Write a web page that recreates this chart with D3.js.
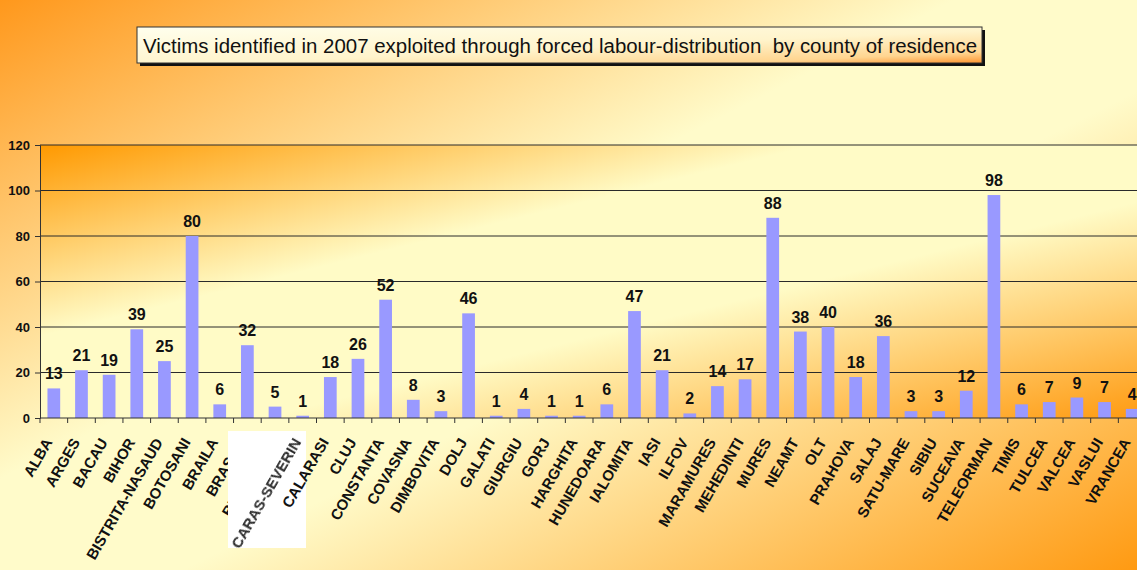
<!DOCTYPE html>
<html>
<head>
<meta charset="utf-8">
<script src="https://cdn.jsdelivr.net/npm/d3@7"></script>
<style>
body { margin: 0; overflow: hidden; }
svg { display: block; font-family: "Liberation Sans", Arial, sans-serif; }
</style>
</head>
<body>
<svg id="chart"></svg>
<script>
const counties = ['ALBA', 'ARGES', 'BACAU', 'BIHOR', 'BISTRITA-NASAUD', 'BOTOSANI', 'BRAILA', 'BRASOV',
	'BUCURESTI', 'CARAS-SEVERIN', 'CALARASI', 'CLUJ', 'CONSTANTA', 'COVASNA', 'DIMBOVITA', 'DOLJ',
	'GALATI', 'GIURGIU', 'GORJ', 'HARGHITA', 'HUNEDOARA', 'IALOMITA', 'IASI', 'ILFOV', 'MARAMURES',
	'MEHEDINTI', 'MURES', 'NEAMT', 'OLT', 'PRAHOVA', 'SALAJ', 'SATU-MARE', 'SIBIU', 'SUCEAVA',
	'TELEORMAN', 'TIMIS', 'TULCEA', 'VALCEA', 'VASLUI', 'VRANCEA']
const victims = [13, 21, 19, 39, 25, 80, 6, 32, 5, 1, 18, 26, 52, 8, 3, 46, 1, 4, 1, 1, 6, 47, 21, 2,
	14, 17, 88, 38, 40, 18, 36, 3, 3, 12, 98, 6, 7, 9, 7, 4]
const yTicks = [0, 20, 40, 60, 80, 100, 120]
const title = 'Victims identified in 2007 exploited through forced labour-distribution  by county of residence'

const width = 1137, height = 570
const plot = {left: 40, right: 1146, top: 145, bottom: 418}

const svg = d3.select('#chart').attr('width', width).attr('height', height)
const defs = svg.append('defs')

function gradient(id, stops) {
	let g = defs.append('linearGradient').attr('id', id)
		.attr('x1', 0).attr('y1', 0).attr('x2', 1).attr('y2', 1)
	stops.forEach(([o, c]) => g.append('stop').attr('offset', o).attr('stop-color', c))
}
gradient('bg', [[0, '#ff981c'], [0.42, '#fffbca'], [0.58, '#fffbca'], [1, '#ff9a12']])
gradient('plotbg', [[0, '#ff9900'], [0.35, '#fffbc6'], [0.6, '#fffbc6'], [1, '#ff9a10']])
gradient('titlebg', [[0, '#ffffee'], [0.55, '#fff4cc'], [0.85, '#ffd590'], [1, '#ff9530']])
defs.append('filter').attr('id', 'soft')
	.append('feGaussianBlur').attr('stdDeviation', 0.6)

svg.append('rect').attr('width', width).attr('height', height).attr('fill', 'url(#bg)')

// title box with shadow
svg.append('rect').attr('x', 140).attr('y', 30).attr('width', 845).attr('height', 36).attr('fill', '#111')
svg.append('rect').attr('x', 137).attr('y', 27).attr('width', 845).attr('height', 36)
	.attr('fill', 'url(#titlebg)').attr('stroke', '#333').attr('stroke-width', 1)
svg.append('text').attr('x', 143).attr('y', 53)
	.attr('textLength', 834).attr('lengthAdjust', 'spacingAndGlyphs')
	.style('white-space', 'pre').style('font-size', '20px').attr('fill', '#111')
	.text(title)

let x = d3.scaleBand().domain(counties).range([plot.left, plot.right]).padding(0)
let y = d3.scaleLinear().domain([0, 120]).range([plot.bottom, plot.top])
let bw = x.bandwidth()
let barW = bw * 0.46

svg.append('rect').attr('x', plot.left).attr('y', plot.top)
	.attr('width', plot.right - plot.left).attr('height', plot.bottom - plot.top)
	.attr('fill', 'url(#plotbg)')

// gridlines
svg.append('g').selectAll('line').data(yTicks.filter(t => t > 0)).join('line')
	.attr('x1', plot.left).attr('x2', plot.right)
	.attr('y1', d => y(d)).attr('y2', d => y(d))
	.attr('stroke', '#2a2a2a').attr('stroke-width', 1)

// y axis
let yAxis = svg.append('g').attr('transform', `translate(${plot.left},0)`)
	.call(d3.axisLeft(y).tickValues(yTicks).tickSize(5).tickPadding(5))
yAxis.select('.domain').attr('stroke', '#333')
yAxis.selectAll('line').attr('stroke', '#333')
yAxis.selectAll('text').style('font-size', '13px').style('font-weight', 'bold')
	.style('font-family', '"Liberation Sans", Arial, sans-serif').attr('fill', '#111')

// bars
svg.append('g').selectAll('rect').data(counties).join('rect')
	.attr('x', (c) => x(c) + (bw - barW) / 2)
	.attr('width', barW)
	.attr('y', (c, i) => y(victims[i]))
	.attr('height', (c, i) => y(0) - y(victims[i]))
	.attr('fill', '#9999ff')

// value labels
svg.append('g').selectAll('text').data(counties).join('text')
	.attr('x', (c) => x(c) + bw / 2)
	.attr('y', (c, i) => y(victims[i]) - 9)
	.attr('text-anchor', 'middle')
	.style('font-size', '16px').style('font-weight', 'bold').attr('fill', '#111')
	.text((c, i) => victims[i])

// x axis line and ticks at category boundaries
svg.append('line').attr('x1', plot.left).attr('x2', plot.right)
	.attr('y1', plot.bottom).attr('y2', plot.bottom).attr('stroke', '#333')
svg.append('g').selectAll('line').data(counties).join('line')
	.attr('x1', c => x(c)).attr('x2', c => x(c))
	.attr('y1', plot.bottom).attr('y2', plot.bottom + 5)
	.attr('stroke', '#333')

// category labels
let labels = svg.append('g')
function catLabel(c) {
	return labels.append('text')
		.attr('transform', `translate(${x(c) + bw / 2 - 1},442) rotate(-60)`)
		.attr('text-anchor', 'end')
		.style('font-size', '15px').style('font-weight', 'bold').attr('fill', '#111')
		.text(c)
}
let cut = counties.indexOf('CARAS-SEVERIN')
counties.slice(0, cut).forEach(catLabel)

// pasted white patch over some labels, with its own label
labels.append('rect').attr('x', 228).attr('y', 431).attr('width', 78).attr('height', 117).attr('fill', '#fff')
catLabel('CARAS-SEVERIN').attr('fill', '#2a2a2a').attr('filter', 'url(#soft)')
counties.slice(cut + 1).forEach(catLabel)
</script>
</body>
</html>
